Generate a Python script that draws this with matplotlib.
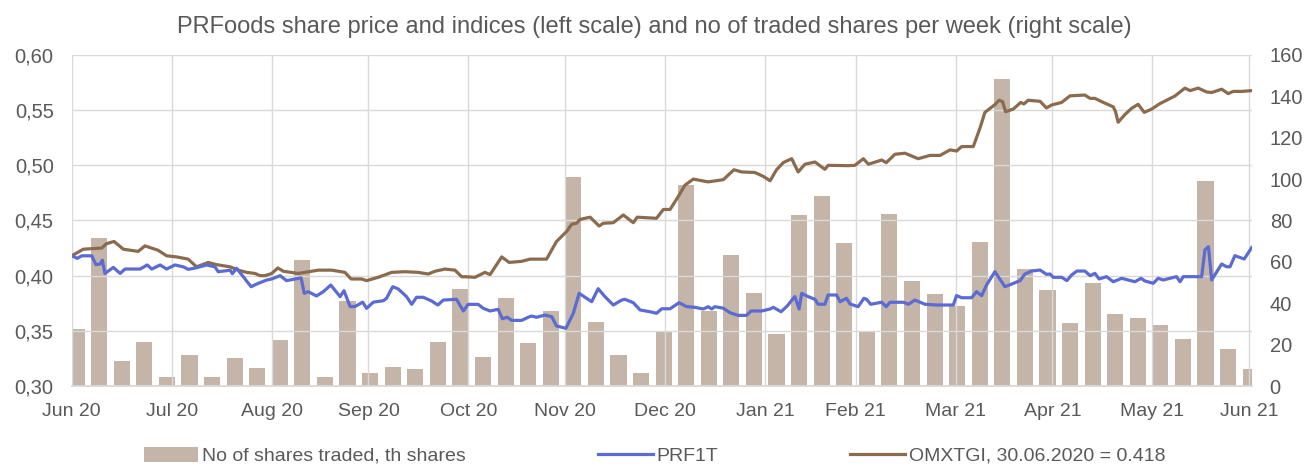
import numpy as np
import pandas as pd
import matplotlib
matplotlib.use("Agg")
import matplotlib.pyplot as plt
import matplotlib.dates as mdates
from matplotlib.ticker import FuncFormatter, FixedLocator
from matplotlib.patches import Patch
from matplotlib.lines import Line2D

plt.rcParams['font.family'] = ['Liberation Sans', 'DejaVu Sans']

# ---------------- data ----------------
title = "PRFoods share price and indices (left scale) and no of traded shares per week (right scale)"
start_date = "2020-06-30"
bar_label = "No of shares traded, th shares"
prf_label = "PRF1T"
omx_label = "OMXTGI, 30.06.2020 = 0.418"

# weekly traded volume (th shares), weeks starting 2020-07-01
week_start = "2020-07-01 12:00"
volume = [27.4, 71.5, 12.2, 21.1, 4.2, 15.1, 4.5, 13.4, 8.9, 22.4, 60.9, 4.4,
          41.2, 6.4, 9.2, 8.2, 21.4, 47.0, 14.2, 42.7, 20.9, 36.2, 101.2, 30.8,
          15.0, 6.4, 25.9, 97.1, 36.1, 63.5, 45.1, 25.0, 82.8, 92.0, 69.1, 26.6,
          83.1, 50.7, 44.3, 38.7, 69.6, 148.4, 56.4, 46.6, 30.3, 49.6, 34.6, 32.7,
          29.6, 22.6, 99.1, 17.7, 8.2]

# OMXTGI (rebased), days since 30.06.2020
omx_days = [0, 3.6, 9.3, 10.8, 13.1, 16.0, 20.6, 22.7, 26.8, 29.4, 32.5, 36.1, 38.7,
            42.3, 44.9, 49.1, 51.6, 54.2, 56.8, 58.4, 59.9, 62.0, 63.9, 65.6, 70.2,
            76.4, 80.6, 84.7, 86.6, 89.9, 91.4, 95.0, 99.2, 103.3, 107.4, 110.5,
            112.6, 115.7, 118.8, 120.9, 122.4, 125.0, 128.1, 129.7, 133.3, 135.6,
            139.5, 142.1, 147.2, 150.3, 153.4, 155.0, 156.5, 157.6, 160.7, 163.5,
            164.8, 167.9, 171.0, 174.1, 175.3, 181.3, 183.4, 185.5, 188.0, 190.1,
            192.7, 197.3, 202.0, 205.3, 207.7, 211.8, 214.4, 216.5, 218.5, 220.6,
            223.2, 225.2, 227.3, 230.4, 233.5, 234.5, 240.7, 242.8, 245.4, 247.0,
            251.1, 252.5, 255.2, 258.3, 262.4, 266.1, 269.2, 272.3, 274.3, 275.9,
            279.5, 281.6, 283.1, 286.2, 287.5, 288.6, 289.5, 291.9, 294.2, 295.2,
            296.5, 300.2, 302.2, 303.8, 306.9, 309.5, 314.1, 315.7, 317.2, 319.8,
            322.9, 323.6, 324.4, 326.5, 328.6, 330.6, 332.5, 334.8, 337.4, 342.0,
            345.1, 346.7, 349.2, 351.8, 353.4, 356.5, 358.5, 360.1, 362.7, 365.8]
omx_vals = [0.418, 0.424, 0.425, 0.429, 0.431, 0.424, 0.422, 0.427, 0.423, 0.418,
            0.417, 0.415, 0.408, 0.412, 0.410, 0.408, 0.405, 0.403, 0.402, 0.400,
            0.400, 0.402, 0.407, 0.404, 0.402, 0.405, 0.405, 0.403, 0.397, 0.397,
            0.3955, 0.3985, 0.403, 0.4036, 0.403, 0.4015, 0.404, 0.406, 0.405,
            0.399, 0.399, 0.3985, 0.403, 0.401, 0.417, 0.412, 0.413, 0.415, 0.415,
            0.431, 0.440, 0.4466, 0.4475, 0.451, 0.453, 0.445, 0.4475, 0.448,
            0.455, 0.448, 0.453, 0.452, 0.460, 0.460, 0.4716, 0.482, 0.4875,
            0.485, 0.487, 0.496, 0.494, 0.4935, 0.490, 0.486, 0.496, 0.5025,
            0.506, 0.494, 0.501, 0.503, 0.4964, 0.500, 0.4997, 0.500, 0.506,
            0.501, 0.5048, 0.5024, 0.510, 0.511, 0.506, 0.509, 0.509, 0.514,
            0.513, 0.517, 0.517, 0.534, 0.548, 0.555, 0.559, 0.5577, 0.5486,
            0.551, 0.557, 0.5556, 0.559, 0.558, 0.552, 0.5547, 0.557, 0.563,
            0.5637, 0.5607, 0.5607, 0.557, 0.553, 0.5486, 0.539, 0.546, 0.5517,
            0.5553, 0.548, 0.551, 0.556, 0.5628, 0.570, 0.5677, 0.570, 0.5665,
            0.566, 0.569, 0.565, 0.567, 0.567, 0.5677]

# PRF1T share price, days since 30.06.2020
prf_days = [0, 1.7, 3.1, 6.2, 7.5, 8.8, 9.5, 10.3, 12.9, 15.0, 16.5, 21.2, 23.4,
            24.8, 27.4, 29.4, 32.0, 34.6, 36.1, 38.7, 41.8, 44.4, 45.4, 48.0,
            49.1, 49.8, 51.1, 53.2, 55.6, 57.8, 60.4, 62.0, 64.6, 66.6, 68.7,
            71.1, 72.1, 73.3, 75.9, 78.0, 80.3, 83.2, 84.4, 86.3, 87.8, 90.2,
            91.4, 93.5, 96.6, 97.6, 99.5, 101.2, 103.8, 105.4, 106.9, 109.0,
            111.6, 113.5, 115.2, 119.3, 121.4, 122.9, 126.0, 127.6, 129.7, 132.2,
            133.5, 135.0, 136.4, 139.5, 141.5, 142.6, 144.1, 146.7, 148.8, 150.3,
            153.2, 155.5, 157.3, 161.2, 163.2, 165.3, 167.9, 170.5, 171.5, 174.1,
            176.2, 179.3, 181.3, 182.9, 185.5, 188.3, 190.6, 193.2, 195.8, 197.3,
            198.4, 199.4, 202.0, 204.1, 206.6, 209.2, 210.6, 213.9, 216.5, 217.5,
            219.9, 221.9, 223.7, 224.2, 225.5, 226.3, 228.3, 230.4, 231.4, 233.5,
            234.5, 237.1, 238.2, 240.2, 241.3, 243.8, 245.6, 246.4, 247.7, 251.1,
            252.5, 253.7, 257.8, 259.4, 261.4, 264.5, 268.1, 273.3, 274.3, 275.9,
            279.0, 280.5, 282.1, 283.6, 286.2, 289.3, 291.4, 294.0, 295.5, 297.6,
            300.2, 302.2, 303.3, 304.3, 306.9, 308.5, 310.0, 311.6, 314.1, 315.7,
            317.2, 318.5, 320.8, 322.9, 325.5, 329.6, 331.5, 332.7, 335.3, 336.8,
            338.4, 342.5, 343.6, 344.6, 350.3, 351.3, 352.4, 353.4, 356.5, 358.0,
            359.1, 360.6, 363.5, 365.8]
prf_vals = [0.418, 0.4157, 0.418, 0.418, 0.410, 0.4106, 0.414, 0.402, 0.4075,
            0.402, 0.406, 0.406, 0.4097, 0.406, 0.4097, 0.406, 0.4097, 0.408,
            0.4057, 0.4072, 0.4097, 0.408, 0.4036, 0.4045, 0.405, 0.4018, 0.4067,
            0.399, 0.390, 0.393, 0.396, 0.397, 0.400, 0.3955, 0.3967, 0.398,
            0.384, 0.3855, 0.3816, 0.3855, 0.3915, 0.381, 0.3864, 0.372, 0.372,
            0.376, 0.3704, 0.376, 0.3773, 0.3795, 0.390, 0.388, 0.381, 0.374,
            0.3804, 0.3804, 0.377, 0.3734, 0.3779, 0.3786, 0.368, 0.374, 0.374,
            0.3704, 0.368, 0.3695, 0.361, 0.3623, 0.3595, 0.3595, 0.3623, 0.3634,
            0.3623, 0.3643, 0.3628, 0.3544, 0.3523, 0.3659, 0.384, 0.3764, 0.3882,
            0.381, 0.3734, 0.3779, 0.3786, 0.3755, 0.3689, 0.3673, 0.3659, 0.370,
            0.370, 0.3755, 0.372, 0.3713, 0.3698, 0.3719, 0.3698, 0.3719, 0.3705,
            0.3664, 0.364, 0.364, 0.368, 0.368, 0.3698, 0.3713, 0.3673, 0.3728,
            0.3795, 0.381, 0.3698, 0.384, 0.381, 0.3786, 0.3741, 0.3741, 0.3825,
            0.3825, 0.3764, 0.3795, 0.3743, 0.3719, 0.3795, 0.3786, 0.3741,
            0.3759, 0.3719, 0.3759, 0.3759, 0.3741, 0.3779, 0.3741, 0.3734,
            0.3734, 0.3819, 0.380, 0.380, 0.3855, 0.3819, 0.3915, 0.4036, 0.390,
            0.3924, 0.3955, 0.4015, 0.4042, 0.4051, 0.4012, 0.4015, 0.3985,
            0.3985, 0.3955, 0.4006, 0.4042, 0.4042, 0.400, 0.4021, 0.397, 0.3991,
            0.3945, 0.3976, 0.3945, 0.3976, 0.3952, 0.3931, 0.3976, 0.3961,
            0.3991, 0.3945, 0.3991, 0.3991, 0.4233, 0.4263, 0.3961, 0.4106,
            0.4081, 0.4081, 0.4181, 0.4151, 0.4254]

left_ticks = [0.30, 0.35, 0.40, 0.45, 0.50, 0.55, 0.60]
right_ticks = [0, 20, 40, 60, 80, 100, 120, 140, 160]

# ---------------- styling ----------------
c_bar = "#C4B5A8"
c_prf = "#5B6BD2"
c_omx = "#8B6B4E"
c_grid = "#D9D9D9"
c_text = "#595959"

fig = plt.figure(figsize=(13.09, 4.68), dpi=100)
ax = fig.add_axes([0.0548, 0.1752, 0.9014, 0.7073])
ax2 = ax.twinx()
ax.set_zorder(ax2.get_zorder() + 1)
ax.patch.set_visible(False)

base = mdates.date2num(pd.Timestamp(start_date))
wk = mdates.date2num(pd.date_range(week_start, periods=len(volume), freq="7D"))
ax2.bar(wk, volume, width=5.0, color=c_bar, zorder=1)

ax.plot(base + np.array(omx_days), omx_vals, color=c_omx, lw=2.3, zorder=3,
        solid_joinstyle="round")
ax.plot(base + np.array(prf_days), prf_vals, color=c_prf, lw=2.3, zorder=4,
        solid_joinstyle="round")

ax.set_xlim(base, base + 365.8)
ax.set_ylim(0.30, 0.60)
ax2.set_ylim(0, 160)

tick_dates = pd.date_range("2020-07-01", periods=13, freq="MS") - pd.Timedelta(days=1)
ax.xaxis.set_major_locator(FixedLocator(mdates.date2num(tick_dates)))
ax.xaxis.set_major_formatter(mdates.DateFormatter("%b %y"))
ax.set_yticks(left_ticks)
ax.yaxis.set_major_formatter(FuncFormatter(lambda v, p: f"{v:.2f}".replace(".", ",")))
ax2.set_yticks(right_ticks)

ax.grid(True, color=c_grid, lw=1.0)
ax.set_axisbelow(False)
for a in (ax, ax2):
    for s in a.spines.values():
        s.set_visible(False)
ax.spines["bottom"].set_visible(True)
ax.spines["bottom"].set_color(c_grid)
ax.spines["bottom"].set_linewidth(1.3)

ax.tick_params(axis="x", length=0, pad=12, labelsize=14, labelcolor=c_text)
ax.tick_params(axis="y", length=0, pad=13, labelsize=14.5, labelcolor=c_text)
ax2.tick_params(axis="y", length=0, pad=13, labelsize=14.5, labelcolor=c_text)

fig.text(0.5, 0.943, title, ha="center", va="center", fontsize=17, color=c_text)

handles = [Patch(facecolor=c_bar, edgecolor="none"),
           Line2D([], [], color=c_prf, lw=2.3),
           Line2D([], [], color=c_omx, lw=2.3)]
fig.legend(handles, [bar_label, prf_label, omx_label], loc="center",
           bbox_to_anchor=(0.5, 0.026), ncol=3, frameon=False, fontsize=14,
           handlelength=2.8, handleheight=0.8, handletextpad=0.2, columnspacing=6.8,
           labelcolor=c_text)

fig.savefig("out.png", dpi=100)
